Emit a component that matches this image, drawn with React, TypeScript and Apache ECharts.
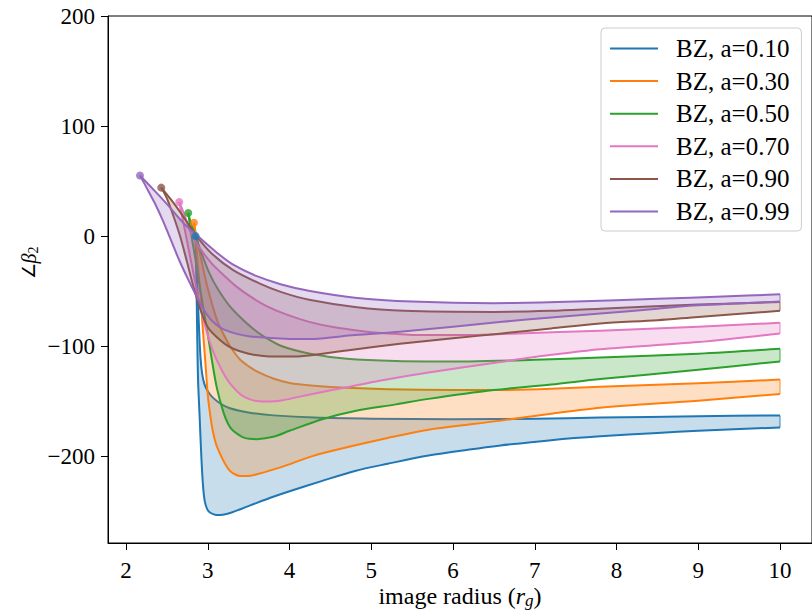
import React, { useEffect, useRef } from 'react';
import * as echarts from 'echarts';

const labels = ['BZ, a=0.10', 'BZ, a=0.30', 'BZ, a=0.50', 'BZ, a=0.70', 'BZ, a=0.90', 'BZ, a=0.99'];
const colors = ['#1f77b4', '#ff7f0e', '#2ca02c', '#e377c2', '#8c564b', '#9467bd'];
const startPoints = [[2.85, 0], [2.83, 12], [2.76, 21], [2.65, 31], [2.43, 44], [2.17, 55]];

const upper010 = [[2.85,0],[2.87,-40],[2.89,-80],[2.91,-110],[2.93,-125],[2.96,-135],[3.0,-141],[3.05,-146],[3.11,-150],[3.19,-154],[3.27,-156.5],[3.4,-159],[3.55,-161],[3.8,-163],[4.3,-165],[5.0,-166],[6.0,-166.5],[7.0,-166],[7.8,-165],[9.0,-163.8],[10,-163]];
const lower010 = [[2.85,0],[2.86,-40],[2.87,-90],[2.88,-130],[2.9,-165],[2.92,-200],[2.94,-226],[2.96,-240],[2.99,-248],[3.03,-251.5],[3.1,-253.5],[3.2,-253],[3.3,-251],[3.39,-248.5],[3.6,-242.5],[3.8,-237],[4.0,-232],[4.4,-222.5],[4.8,-213.5],[5.2,-207],[5.7,-199.5],[6.2,-194],[6.56,-190.5],[7.2,-185.5],[7.8,-182],[8.5,-179],[9.0,-177],[10,-174]];

const upper030 = [[2.83,12],[2.86,0],[2.9,-15],[2.95,-32],[3.0,-48],[3.06,-64],[3.12,-78],[3.19,-89],[3.27,-100],[3.39,-112],[3.5,-118.5],[3.6,-123],[3.8,-129.5],[4.0,-133.5],[4.3,-136],[4.7,-138],[5.2,-139.3],[6.0,-140],[6.56,-140],[7.2,-138.8],[7.8,-137],[9.0,-133.8],[10,-130.5]];
const lower030 = [[2.83,12],[2.86,-10],[2.9,-45],[2.94,-86],[2.97,-115],[3.0,-145],[3.03,-163],[3.06,-177],[3.1,-189],[3.15,-198],[3.21,-207],[3.27,-213.5],[3.33,-216.5],[3.39,-218],[3.5,-218],[3.6,-216.5],[3.9,-210],[4.28,-200],[4.7,-192],[5.2,-183.5],[5.7,-176],[6.56,-168],[7.2,-161.5],[7.8,-156],[9.0,-149.6],[10,-143.5]];

const upper050 = [[2.76,21],[2.8,10],[2.85,0],[2.92,-15],[3.02,-34],[3.12,-48],[3.25,-62],[3.4,-74],[3.55,-84],[3.7,-92],[3.9,-100],[4.25,-107],[4.7,-111.5],[5.3,-113.5],[6.2,-114],[7.0,-112.5],[7.8,-110.5],[9.0,-107],[10,-102.5]];
const lower050 = [[2.76,21],[2.8,0],[2.85,-22],[2.9,-45],[2.95,-68],[3.0,-90],[3.05,-113],[3.11,-138],[3.19,-160],[3.25,-171],[3.31,-177],[3.45,-183.5],[3.6,-184.6],[3.8,-182.5],[4.0,-177],[4.4,-166.5],[4.8,-159],[5.3,-153],[5.7,-148],[6.5,-140],[7.2,-135],[7.8,-130],[9.0,-121.6],[10,-114]];

const upper070 = [[2.65,31],[2.72,18],[2.78,5],[2.85,-5],[2.95,-16],[3.06,-26],[3.2,-36],[3.35,-46],[3.5,-54],[3.7,-63],[3.95,-71],[4.24,-78],[4.55,-83],[4.85,-86],[5.2,-88.5],[5.6,-90],[6.2,-90],[6.8,-88.5],[7.8,-86],[9.0,-82.5],[10,-78.8]];
const lower070 = [[2.65,31],[2.72,5],[2.8,-25],[2.88,-55],[2.96,-80],[3.06,-104],[3.17,-122],[3.27,-134],[3.4,-144],[3.5,-148],[3.6,-150],[3.75,-150.5],[3.9,-149.5],[4.28,-143.5],[4.7,-137.5],[5.1,-131.5],[5.7,-124],[6.56,-114.7],[7.2,-108],[7.8,-102.8],[9.0,-96.4],[10,-88.5]];

const upper090 = [[2.43,44],[2.55,33],[2.66,22],[2.76,11],[2.86,0],[3.05,-16],[3.31,-31],[3.63,-43],[3.9,-51],[4.24,-58],[4.8,-64.5],[5.4,-68],[6.5,-69],[7.2,-68],[7.8,-66],[9.0,-62.3],[10,-60]];
const lower090 = [[2.43,44],[2.5,34],[2.58,18],[2.66,0],[2.74,-22],[2.82,-45],[2.9,-65],[3.0,-83],[3.11,-92],[3.27,-101],[3.5,-107],[3.75,-109.5],[4.1,-109.5],[4.7,-104],[5.35,-98],[6.0,-93],[6.6,-88.5],[7.2,-84],[7.8,-79.5],[8.5,-76.5],[9.0,-73.5],[10,-68]];

const upper099 = [[2.17,55],[2.35,41],[2.5,29],[2.7,12],[2.86,1],[3.1,-14.5],[3.31,-26],[3.6,-36.5],[3.9,-44],[4.25,-50],[4.8,-56],[5.5,-59.5],[6.5,-61],[7.5,-59.5],[8.5,-57],[9.3,-55],[10,-53]];
const lower099 = [[2.17,55],[2.25,44],[2.35,30],[2.45,14],[2.55,-4],[2.65,-22],[2.75,-38],[2.85,-53],[2.95,-67],[3.05,-77],[3.2,-85],[3.5,-91],[4.0,-93.5],[4.3,-93.5],[4.8,-90],[5.35,-87],[6.0,-82.5],[6.6,-78],[7.2,-74],[7.8,-70.5],[8.5,-66],[9.0,-63],[10,-59.5]];

const uppers = [upper010, upper030, upper050, upper070, upper090, upper099];
const lowers = [lower010, lower030, lower050, lower070, lower090, lower099];

const xTicks = [2, 3, 4, 5, 6, 7, 8, 9, 10];
const yTicks = [-200, -100, 0, 100, 200];

const FONT = 'Liberation Serif';

function hexToRgba(hex: string, a: number) {
  const r = parseInt(hex.slice(1, 3), 16);
  const g = parseInt(hex.slice(3, 5), 16);
  const b = parseInt(hex.slice(5, 7), 16);
  return `rgba(${r},${g},${b},${a})`;
}

function bbox(pts: number[][]) {
  let x0 = Infinity, y0 = Infinity, x1 = -Infinity, y1 = -Infinity;
  for (const p of pts) {
    if (p[0] < x0) x0 = p[0];
    if (p[1] < y0) y0 = p[1];
    if (p[0] > x1) x1 = p[0];
    if (p[1] > y1) y1 = p[1];
  }
  return [[x0, y0], [x1, y1]];
}

export default function App() {
  const ref = useRef<HTMLDivElement>(null);
  useEffect(() => {
    if (!ref.current) return;
    const chart = echarts.init(ref.current, null, { renderer: 'svg' });
    const bandSeries = labels.map((name, i) => ({
      type: 'custom',
      name,
      coordinateSystem: 'cartesian2d',
      data: [startPoints[i]],
      encode: { x: 0, y: 1 },
      itemStyle: { color: colors[i] },
      clip: false,
      renderItem: (_params: any, api: any) => {
        const up = uppers[i].map((p) => api.coord(p));
        const lo = lowers[i].map((p) => api.coord(p));
        const poly = up.concat(lo.slice().reverse());
        const endU = up[up.length - 1];
        const endL = lo[lo.length - 1];
        return {
          type: 'group',
          children: [
            {
              type: 'polygon',
              shape: { points: poly },
              style: { fill: hexToRgba(colors[i], 0.25), stroke: 'none' },
            },
            {
              type: 'line',
              shape: { x1: endU[0], y1: endU[1], x2: endL[0], y2: endL[1] },
              style: { stroke: hexToRgba(colors[i], 0.6), lineWidth: 1.5 },
            },
            {
              type: 'polyline',
              shape: { points: up, smooth: 0.3, smoothConstraint: bbox(up) },
              style: { fill: 'none', stroke: colors[i], lineWidth: 2 },
            },
            {
              type: 'polyline',
              shape: { points: lo, smooth: 0.3, smoothConstraint: bbox(lo) },
              style: { fill: 'none', stroke: colors[i], lineWidth: 2 },
            },
          ],
        };
      },
    }));
    const dotSeries = {
      type: 'scatter',
      name: 'start',
      symbolSize: 8,
      z: 5,
      data: startPoints.map((p, i) => ({ value: p, itemStyle: { color: colors[i] } })),
    };
    const fmt = (v: number) => (v < 0 ? '\u2212' + Math.abs(v) : String(v));
    chart.setOption({
      animation: false,
      grid: { left: 108, top: 16, width: 705, height: 527, show: true, borderColor: '#000', borderWidth: 1, backgroundColor: 'transparent' },
      xAxis: {
        type: 'value', min: 1.7785, max: 10.3915,
        axisLine: { show: true, onZero: false, lineStyle: { color: '#000', width: 1 } },
        axisTick: { show: true, customValues: xTicks, length: 7, lineStyle: { color: '#000', width: 1 } },
        axisLabel: { customValues: xTicks, margin: 16, fontFamily: FONT, fontSize: 23, color: '#000', formatter: fmt },
        splitLine: { show: false },
      },
      yAxis: {
        type: 'value', min: -279, max: 200,
        axisLine: { show: true, onZero: false, lineStyle: { color: '#000', width: 1 } },
        axisTick: { show: true, customValues: yTicks, length: 7, lineStyle: { color: '#000', width: 1 } },
        axisLabel: { customValues: yTicks, margin: 13, fontFamily: FONT, fontSize: 23, color: '#000', formatter: fmt },
        splitLine: { show: false },
      },
      legend: {
        orient: 'vertical', left: 601, top: 28,
        data: labels.map((n, i) => ({ name: n, icon: 'path://M0,0L48,0L48,2L0,2Z', itemStyle: { color: colors[i] } })),
        itemWidth: 48, itemHeight: 2, itemGap: 7.6,
        padding: [8, 12, 7, 9],
        backgroundColor: 'rgba(255,255,255,0.8)', borderColor: '#cccccc', borderWidth: 1, borderRadius: 4,
        textStyle: { fontFamily: FONT, fontSize: 25, color: '#000', lineHeight: 24, padding: [0, 0, 0, 13] },
        selectedMode: false,
      },
      graphic: [
        {
          type: 'text', x: 460, y: 596,
          style: {
            text: '{a|image radius (}{b|r}{c|g}{a|)}',
            align: 'center', verticalAlign: 'middle',
            rich: {
              a: { fontFamily: FONT, fontSize: 24, fill: '#000', lineHeight: 26, verticalAlign: 'middle' },
              b: { fontFamily: FONT, fontSize: 24, fontStyle: 'italic', fill: '#000', lineHeight: 26, verticalAlign: 'middle' },
              c: { fontFamily: FONT, fontSize: 17, fontStyle: 'italic', fill: '#000', lineHeight: 14, verticalAlign: 'bottom' },
            },
          },
        },
        {
          type: 'text', x: 29, y: 263, rotation: Math.PI / 2,
          style: {
            text: '{a|\u2220}{b|\u03b2}{c|2}',
            align: 'center', verticalAlign: 'middle',
            rich: {
              a: { fontFamily: FONT, fontSize: 18, fill: '#000', lineHeight: 22, verticalAlign: 'middle' },
              b: { fontFamily: FONT, fontSize: 20, fontStyle: 'italic', fill: '#000', lineHeight: 22, verticalAlign: 'middle' },
              c: { fontFamily: FONT, fontSize: 14, fill: '#000', lineHeight: 12, verticalAlign: 'bottom' },
            },
          },
        },
      ],
      series: [...bandSeries, dotSeries],
    });
    return () => chart.dispose();
  }, []);
  return <div ref={ref} style={{ position: 'absolute', left: 0, top: 0, width: 812, height: 610 }} />;
}
